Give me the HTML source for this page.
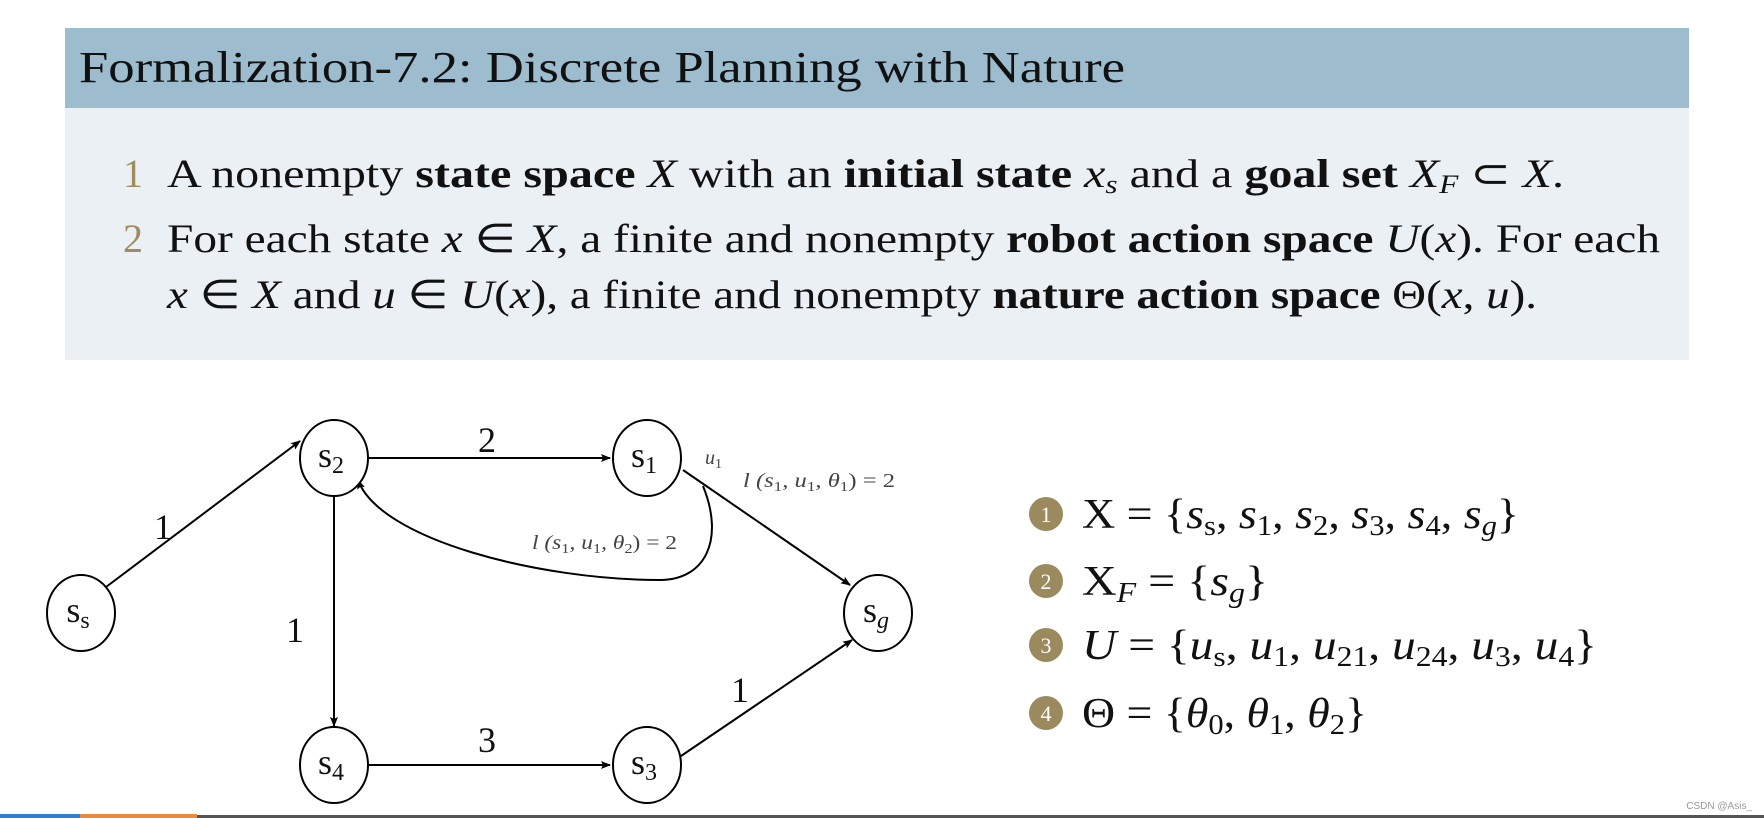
<!DOCTYPE html>
<html><head><meta charset="utf-8"><style>
html,body{margin:0;padding:0;background:#fff;}
body{width:1764px;height:818px;overflow:hidden;position:relative;font-family:"Liberation Serif",serif;}
</style></head><body>
<svg width="1764" height="818" viewBox="0 0 1764 818" xmlns="http://www.w3.org/2000/svg" style="position:absolute;left:0;top:0">
<defs>
<marker id="ah" markerWidth="10" markerHeight="8" refX="9" refY="4" orient="auto" markerUnits="userSpaceOnUse">
<path d="M0,0 L10,4 L0,8 L2,4 z" fill="#000"/></marker>
</defs>
<rect x="65" y="28" width="1624" height="80" fill="#9dbdcf"/>
<rect x="65" y="108" width="1624" height="252" fill="#eaf0f4"/>
<text x="79" y="82" font-size="44" fill="#111" font-family="Liberation Serif,serif" textLength="1046" lengthAdjust="spacingAndGlyphs">Formalization-7.2: Discrete Planning with Nature</text>
<g font-size="40" font-family="Liberation Serif,serif" fill="#111">
<text x="123" y="187" fill="#a08c5e">1</text>
<text x="167" y="187" textLength="1397" lengthAdjust="spacingAndGlyphs">A nonempty <tspan font-weight="bold">state space</tspan> <tspan font-style="italic">X</tspan> with an <tspan font-weight="bold">initial state</tspan> <tspan font-style="italic">x</tspan><tspan font-style="italic" font-size="26" dy="6">s</tspan><tspan dy="-6"> and a </tspan><tspan font-weight="bold">goal set</tspan> <tspan font-style="italic">X</tspan><tspan font-style="italic" font-size="26" dy="6">F</tspan><tspan dy="-6"> ⊂ </tspan><tspan font-style="italic">X</tspan>.</text>
<text x="123" y="252" fill="#a08c5e">2</text>
<text x="167" y="252" textLength="1493" lengthAdjust="spacingAndGlyphs">For each state <tspan font-style="italic">x</tspan> ∈ <tspan font-style="italic">X</tspan>, a finite and nonempty <tspan font-weight="bold">robot action space</tspan> <tspan font-style="italic">U</tspan>(<tspan font-style="italic">x</tspan>). For each</text>
<text x="167" y="308" textLength="1370" lengthAdjust="spacingAndGlyphs"><tspan font-style="italic">x</tspan> ∈ <tspan font-style="italic">X</tspan> and <tspan font-style="italic">u</tspan> ∈ <tspan font-style="italic">U</tspan>(<tspan font-style="italic">x</tspan>), a finite and nonempty <tspan font-weight="bold">nature action space</tspan> Θ(<tspan font-style="italic">x</tspan>, <tspan font-style="italic">u</tspan>).</text>
</g>
<g stroke="#000" stroke-width="2" fill="none">
<line x1="106" y1="587" x2="300" y2="441" marker-end="url(#ah)"/>
<line x1="369" y1="458" x2="610" y2="458" marker-end="url(#ah)"/>
<line x1="334" y1="496" x2="334" y2="726" marker-end="url(#ah)"/>
<line x1="369" y1="765" x2="610" y2="765" marker-end="url(#ah)"/>
<line x1="681" y1="756" x2="852" y2="640" marker-end="url(#ah)"/>
<line x1="683" y1="470" x2="850" y2="585" marker-end="url(#ah)"/>
<path d="M703,486 C725,540 705,580 660,580 C540,580 380,540 358,480" marker-end="url(#ah)"/>
</g>
<g stroke="#000" stroke-width="2" fill="#fff">
<ellipse cx="81" cy="613" rx="34" ry="38"/>
<ellipse cx="334" cy="458" rx="34" ry="38"/>
<ellipse cx="647" cy="458" rx="34" ry="38"/>
<ellipse cx="878" cy="613" rx="34" ry="38"/>
<ellipse cx="334" cy="765" rx="34" ry="38"/>
<ellipse cx="647" cy="765" rx="34" ry="38"/>
</g>
<g font-size="36" font-family="Liberation Serif,serif" fill="#111" text-anchor="middle">
<text x="78" y="622">s<tspan font-size="24" dy="6">s</tspan></text>
<text x="331" y="467">s<tspan font-size="24" dy="6">2</tspan></text>
<text x="644" y="467">s<tspan font-size="24" dy="6">1</tspan></text>
<text x="876" y="622">s<tspan font-size="24" dy="6" font-style="italic">g</tspan></text>
<text x="331" y="774">s<tspan font-size="24" dy="6">4</tspan></text>
<text x="644" y="774">s<tspan font-size="24" dy="6">3</tspan></text>
<text x="163" y="539">1</text>
<text x="487" y="452">2</text>
<text x="295" y="642">1</text>
<text x="487" y="752">3</text>
<text x="740" y="702">1</text>
</g>
<g font-size="20" font-family="Liberation Serif,serif" fill="#444" font-style="italic">
<text x="705" y="464">u<tspan font-size="14" dy="4" font-style="normal">1</tspan></text>
<text x="743" y="487" textLength="152" lengthAdjust="spacingAndGlyphs">l (s<tspan font-size="14" dy="4" font-style="normal">1</tspan><tspan dy="-4">, u</tspan><tspan font-size="14" dy="4" font-style="normal">1</tspan><tspan dy="-4">, θ</tspan><tspan font-size="14" dy="4" font-style="normal">1</tspan><tspan dy="-4" font-style="normal">) = 2</tspan></text>
<text x="532" y="549" textLength="145" lengthAdjust="spacingAndGlyphs">l (s<tspan font-size="14" dy="4" font-style="normal">1</tspan><tspan dy="-4">, u</tspan><tspan font-size="14" dy="4" font-style="normal">1</tspan><tspan dy="-4">, θ</tspan><tspan font-size="14" dy="4" font-style="normal">2</tspan><tspan dy="-4" font-style="normal">) = 2</tspan></text>
</g>
<g fill="#9c8a5f">
<circle cx="1046" cy="514" r="17"/><circle cx="1046" cy="581" r="17"/>
<circle cx="1046" cy="645" r="17"/><circle cx="1046" cy="713" r="17"/>
</g>
<g font-size="22" fill="#fff" text-anchor="middle" font-family="Liberation Serif,serif">
<text x="1046" y="522">1</text><text x="1046" y="589">2</text><text x="1046" y="653">3</text><text x="1046" y="721">4</text>
</g>
<g font-size="42" font-family="Liberation Serif,serif" fill="#111">
<text x="1082" y="528" textLength="437" lengthAdjust="spacingAndGlyphs">X = {<tspan font-style="italic">s</tspan><tspan font-size="28" dy="7">s</tspan><tspan dy="-7">, </tspan><tspan font-style="italic">s</tspan><tspan font-size="28" dy="7">1</tspan><tspan dy="-7">, </tspan><tspan font-style="italic">s</tspan><tspan font-size="28" dy="7">2</tspan><tspan dy="-7">, </tspan><tspan font-style="italic">s</tspan><tspan font-size="28" dy="7">3</tspan><tspan dy="-7">, </tspan><tspan font-style="italic">s</tspan><tspan font-size="28" dy="7">4</tspan><tspan dy="-7">, </tspan><tspan font-style="italic">s</tspan><tspan font-size="28" dy="7" font-style="italic">g</tspan><tspan dy="-7">}</tspan></text>
<text x="1082" y="595" textLength="186" lengthAdjust="spacingAndGlyphs">X<tspan font-size="28" dy="7" font-style="italic">F</tspan><tspan dy="-7"> = {</tspan><tspan font-style="italic">s</tspan><tspan font-size="28" dy="7" font-style="italic">g</tspan><tspan dy="-7">}</tspan></text>
<text x="1082" y="659" textLength="515" lengthAdjust="spacingAndGlyphs"><tspan font-style="italic">U</tspan> = {<tspan font-style="italic">u</tspan><tspan font-size="28" dy="7">s</tspan><tspan dy="-7">, </tspan><tspan font-style="italic">u</tspan><tspan font-size="28" dy="7">1</tspan><tspan dy="-7">, </tspan><tspan font-style="italic">u</tspan><tspan font-size="28" dy="7">21</tspan><tspan dy="-7">, </tspan><tspan font-style="italic">u</tspan><tspan font-size="28" dy="7">24</tspan><tspan dy="-7">, </tspan><tspan font-style="italic">u</tspan><tspan font-size="28" dy="7">3</tspan><tspan dy="-7">, </tspan><tspan font-style="italic">u</tspan><tspan font-size="28" dy="7">4</tspan><tspan dy="-7">}</tspan></text>
<text x="1082" y="727" textLength="285" lengthAdjust="spacingAndGlyphs">Θ = {<tspan font-style="italic">θ</tspan><tspan font-size="28" dy="7">0</tspan><tspan dy="-7">, </tspan><tspan font-style="italic">θ</tspan><tspan font-size="28" dy="7">1</tspan><tspan dy="-7">, </tspan><tspan font-style="italic">θ</tspan><tspan font-size="28" dy="7">2</tspan><tspan dy="-7">}</tspan></text>
</g>
<text x="1752" y="809" font-size="10" fill="#999" text-anchor="end" font-family="Liberation Sans,sans-serif">CSDN @Asis_</text>
<rect x="0" y="814" width="80" height="4" fill="#2f7fd0"/>
<rect x="80" y="814" width="117" height="4" fill="#e98a3c"/>
<rect x="197" y="815" width="1567" height="3" fill="#555"/>
</svg>
</body></html>
